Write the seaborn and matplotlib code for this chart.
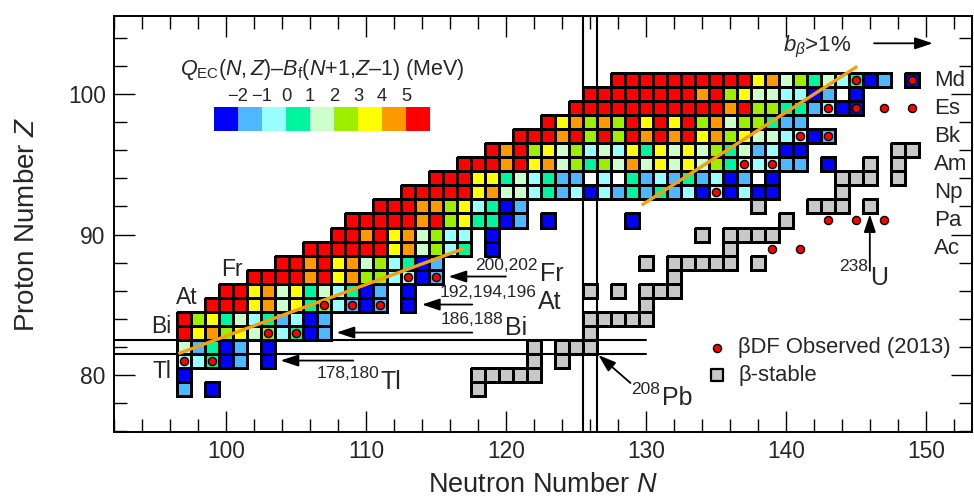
import numpy as np
import pandas as pd
import matplotlib
matplotlib.use("Agg")
import matplotlib.pyplot as plt
from matplotlib.colors import ListedColormap
import seaborn as sns

# ---------------- data ----------------
# one row of the nuclide map per proton number Z, starting at neutron number ROW_START_N
# codes: colour bin of Q_EC(N,Z)-B_f(N+1,Z-1); '.' = no cell, 'W' = cell without value
ROW_Z = [101, 100, 99, 98, 97, 96, 95, 94, 93, 92, 91, 90, 89, 88, 87, 86, 85, 84, 83, 82, 81, 80, 79]
ROW_START_N = [128, 126, 125, 123, 121, 119, 117, 115, 113, 111, 109, 108, 106, 104, 102, 100, 99,
               97, 97, 97, 97, 97, 97]
ROW_CODES = [
    "RRRRRRRRRRYOPLTPCTBS.B",
    "RRRRRRRRORLYPPCCBSWB",
    "RRRRRRRRRRRORLLTTSCBB",
    "RYOLOLRYRYRLOPLLTSS",
    "RRRORLRLRORORYOLYPPCCBS",
    "RORLYPLCPCYTYPYPLTPSCBB",
    "RRRORYOPLTLPOPYPYPLTPCCSS.B",
    "RRRYYTPCTSSWCWTSCSTSCBSWB",
    "RRRRRYOPPCTSCBCSTSTSCBCBCBB",
    "RRROOLYCTBS",
    "RRRRRORLYTTBS.B.....B",
    "RRORYOPLCC.B",
    "RRRRRRYOPLCT.B",
    "RRORYOPLCTBS",
    "RRRRORYOLLCCBS",
    "RRYOPYTPCTBS.B",
    "RRRYOPYTLCSBS.B",
    "RLYTPCTSCBS",
    "RYOLYPLCTBS",
    "PSTBS.B",
    "CCTBS.B",
    "B",
    "S.B",
]
CODE_BINS = ["B", "S", "C", "T", "P", "L", "Y", "O", "R"]          # <-2, -2..-1, ..., >5 MeV
BIN_COLORS = ["#0000FF", "#4DB8FF", "#99FFFF", "#00F5A0", "#CCFFCC",
              "#9EEE00", "#FFFF00", "#FF9900", "#FF0000"]
COLORBAR_TICKS = [-2, -1, 0, 1, 2, 3, 4, 5]

# beta-delayed fission observed (2013)
DOT_N = [97, 99, 103, 105, 107, 109, 111, 113, 115, 135, 137, 139, 141, 143,
         143, 145, 147, 149, 145, 149, 143, 145, 147, 139, 141]
DOT_Z = [81, 81, 83, 83, 85, 85, 85, 87, 87, 93, 95, 95, 97, 97,
         99, 99, 99, 99, 101, 101, 91, 91, 91, 89, 89]

# beta-stable nuclei
STABLE_N = [118, 118, 119, 120, 121, 122, 122, 124, 122, 124, 125, 126, 126,
            126, 127, 128, 129, 130, 130, 126, 128, 130, 131, 132, 132,
            130, 132, 133, 134, 135, 136, 138, 136, 134, 136, 137, 138, 139, 140,
            138, 142, 143, 144, 146, 144, 144, 145, 146, 148, 146, 148, 148, 149]
STABLE_Z = [79, 80, 80, 80, 80, 80, 81, 81, 82, 82, 82, 82, 83,
            84, 84, 84, 84, 84, 85, 86, 86, 86, 86, 86, 87,
            88, 88, 88, 88, 88, 88, 88, 89, 90, 90, 90, 90, 90, 91,
            92, 92, 92, 92, 92, 93, 94, 94, 94, 94, 95, 95, 96, 96]

# b_beta > 1% trend lines
TREND_A_N = [96.6, 117.0]
TREND_A_Z = [81.5, 89.0]
TREND_B_N = [129.7, 145.1]
TREND_B_Z = [92.1, 102.0]

MAGIC_N = 126
MAGIC_Z = 82
MAGIC_Z_LINE_END_N = 130.0

LEFT_ELEMENTS = ["Tl", "Bi", "At", "Fr"]
LEFT_ELEMENT_N = [95.4, 95.4, 97.2, 100.4]
LEFT_ELEMENT_Z = [80.2, 83.4, 85.5, 87.5]
RIGHT_ELEMENTS = ["Md", "Es", "Bk", "Am", "Np", "Pa", "Ac"]
RIGHT_ELEMENT_Z = [101, 99, 97, 95, 93, 91, 89]
RIGHT_ELEMENT_N = 150.6

# ---------------- style ----------------
sns.set_theme(style="white")
plt.rcParams["font.family"] = ["Liberation Sans", "DejaVu Sans"]
plt.rcParams["mathtext.fontset"] = "custom"
plt.rcParams["mathtext.rm"] = "Liberation Sans"
plt.rcParams["mathtext.it"] = "Liberation Sans:italic"
plt.rcParams["mathtext.sf"] = "Liberation Sans"
plt.rcParams["mathtext.bf"] = "Liberation Sans:bold"

N_MIN, N_MAX = 91, 154
Z_TOP, Z_BOT = 106, 75


def xpos(n):
    return np.asarray(n, dtype=float) - N_MIN + 0.5


def ypos(z):
    return Z_TOP - np.asarray(z, dtype=float) + 0.5


cols = np.arange(N_MIN, N_MAX + 1)
rows = np.arange(Z_TOP, Z_BOT - 1, -1)
q_grid = pd.DataFrame(np.nan, index=rows, columns=cols)
aux_grid = pd.DataFrame(np.nan, index=rows, columns=cols)

for z, n0, codes in zip(ROW_Z, ROW_START_N, ROW_CODES):
    for k, c in enumerate(codes):
        n = n0 + k
        if c == ".":
            continue
        if c == "W":
            aux_grid.loc[z, n] = 0.25
        else:
            q_grid.loc[z, n] = CODE_BINS.index(c) - 2.5
for n, z in zip(STABLE_N, STABLE_Z):
    aux_grid.loc[z, n] = 0.75


def hide_masked_edges(mesh):
    mask = np.ma.getmaskarray(mesh.get_array()).ravel()
    ec = np.zeros((mask.size, 4))
    ec[:, 3] = np.where(mask, 0.0, 1.0)
    mesh.set_edgecolor(ec)


fig = plt.figure(figsize=(9.74, 5.01), dpi=100)
ax = fig.add_axes([114 / 974, 69 / 501, 858 / 974, 416 / 501])

sns.heatmap(q_grid, ax=ax, cmap=ListedColormap(BIN_COLORS), vmin=-3, vmax=6, cbar=False,
            linewidths=1.9, linecolor="black", xticklabels=False, yticklabels=False)
hide_masked_edges(ax.collections[-1])
sns.heatmap(aux_grid, ax=ax, cmap=ListedColormap(["white", "#C8C8C8"]), vmin=0, vmax=1,
            cbar=False, linewidths=1.9, linecolor="black", xticklabels=False, yticklabels=False)
hide_masked_edges(ax.collections[-1])

# magic-number lines
for n in (MAGIC_N - 0.5, MAGIC_N + 0.5):
    ax.axvline(xpos(n), color="black", lw=1.5, zorder=3)
for z in (MAGIC_Z - 0.5, MAGIC_Z + 0.5):
    ax.plot(xpos([92.0, MAGIC_Z_LINE_END_N]), ypos([z, z]), color="black", lw=1.5, zorder=3)

# trend lines
for tn, tz in ((TREND_A_N, TREND_A_Z), (TREND_B_N, TREND_B_Z)):
    ax.plot(xpos(tn), ypos(tz), color="#F5A00F", lw=2.4, zorder=4, solid_capstyle="butt")

# observed beta-delayed fission
ax.scatter(xpos(DOT_N), ypos(DOT_Z), s=34, c="#FF0000", edgecolors="black",
           linewidths=1.0, zorder=5)

# axes
ax.set_xlim(xpos(92.0), xpos(153.3))
ax.set_ylim(ypos(75.9), ypos(105.6))
ax.set_xticks(xpos(np.arange(100, 151, 10)))
ax.set_xticklabels([str(v) for v in range(100, 151, 10)])
ax.set_xticks(xpos(np.arange(92, 154, 2)), minor=True)
ax.set_yticks(ypos([80, 90, 100]))
ax.set_yticklabels(["80", "90", "100"])
ax.set_yticks(ypos(np.arange(76, 106, 2)), minor=True)
ax.tick_params(which="both", direction="in", top=True, right=True, bottom=True, left=True,
               width=1.0, color="black", labelsize=16.4, pad=6)
ax.tick_params(which="major", length=15)
ax.tick_params(which="minor", length=9.4)
for s in ax.spines.values():
    s.set_visible(True)
    s.set_linewidth(1.4)
    s.set_color("black")
ax.set_xlabel("Neutron Number $N$", fontsize=19.5, labelpad=6)
ax.set_ylabel("Proton Number $Z$", fontsize=20, labelpad=20)

# element labels
for lab, n, z in zip(LEFT_ELEMENTS, LEFT_ELEMENT_N, LEFT_ELEMENT_Z):
    ax.text(xpos(n), ypos(z), lab, fontsize=16.5, ha="center", va="center")
for lab, z in zip(RIGHT_ELEMENTS, RIGHT_ELEMENT_Z):
    ax.text(xpos(RIGHT_ELEMENT_N), ypos(z), lab, fontsize=16, ha="left", va="center")

# isotope annotations
arrow_kw = dict(arrowstyle="-|>,head_length=0.6,head_width=0.2", color="black", lw=1.3,
                mutation_scale=18, shrinkA=0, shrinkB=0)
ISO_MASS = ["200,202", "192,194,196", "186,188", "178,180", "208", "238"]
ISO_SYMBOL = ["Fr", "At", "Bi", "Tl", "Pb", "U"]
ISO_N = [122.36, 122.24, 119.86, 111.0, 131.07, 145.96]
ISO_Z_MASS = [87.79, 85.86, 83.93, 80.07, 78.96, 87.71]
ISO_Z_SYM = [87.21, 85.16, 83.29, 79.5, 78.36, 86.93]
for m, sym, n, zm, zs in zip(ISO_MASS, ISO_SYMBOL, ISO_N, ISO_Z_MASS, ISO_Z_SYM):
    ax.text(xpos(n - 0.07), ypos(zm), m, fontsize=12.5, ha="right", va="center")
    ax.text(xpos(n + 0.07), ypos(zs), sym, fontsize=18, ha="left", va="center")

ARROW_TAIL_N = [120.0, 117.6, 117.6, 109.1, 128.9, 146.0, 146.3]
ARROW_TAIL_Z = [87.0, 85.0, 83.0, 81.0, 79.4, 87.4, 103.65]
ARROW_TIP_N = [115.9, 114.0, 107.9, 103.9, 126.6, 146.0, 150.5]
ARROW_TIP_Z = [87.0, 85.0, 83.0, 81.0, 81.4, 91.45, 103.65]
for tn, tz, hn, hz in zip(ARROW_TAIL_N, ARROW_TAIL_Z, ARROW_TIP_N, ARROW_TIP_Z):
    ax.annotate("", xy=(xpos(hn), ypos(hz)), xytext=(xpos(tn), ypos(tz)),
                arrowprops=arrow_kw, zorder=6)

ax.text(xpos(142.2), ypos(103.4), r"$b_{\beta}$>1%", fontsize=16, ha="center", va="center")

# legend
ax.scatter(xpos([135.1]), ypos([81.93]), s=34, c="#FF0000", edgecolors="black", linewidths=1.0,
           zorder=5)
ax.scatter(xpos([135.1]), ypos([79.96]), s=85, marker="s", c="#C8C8C8", edgecolors="black",
           linewidths=1.6, zorder=5)
ax.text(xpos(136.6), ypos(81.93), "\u03b2DF Observed (2013)", fontsize=15.8, ha="left", va="center")
ax.text(xpos(136.6), ypos(79.93), "\u03b2-stable", fontsize=15.8, ha="left", va="center")

# colour key
cax = fig.add_axes([214 / 974, 1 - 131 / 501, 216 / 974, 24 / 501])
key = pd.DataFrame([np.arange(len(BIN_COLORS)) - 2.5])
sns.heatmap(key, ax=cax, cmap=ListedColormap(BIN_COLORS), vmin=-3, vmax=6, cbar=False,
            xticklabels=False, yticklabels=False, linewidths=0)
cax.set_axis_off()
for i, t in enumerate(COLORBAR_TICKS):
    cax.text(i + 1, 1.43, str(t).replace("-", "\u2212"), fontsize=13.2, ha="center", va="center",
             transform=cax.get_xaxis_transform())
cax.text(len(BIN_COLORS) / 2, 2.55, r"$Q_{\mathrm{EC}}(N,Z)$–$B_{\mathrm{f}}(N$+1,$Z$–1) (MeV)",
         fontsize=15.5, ha="center", va="center", transform=cax.get_xaxis_transform())

fig.savefig("out.png", dpi=100)
